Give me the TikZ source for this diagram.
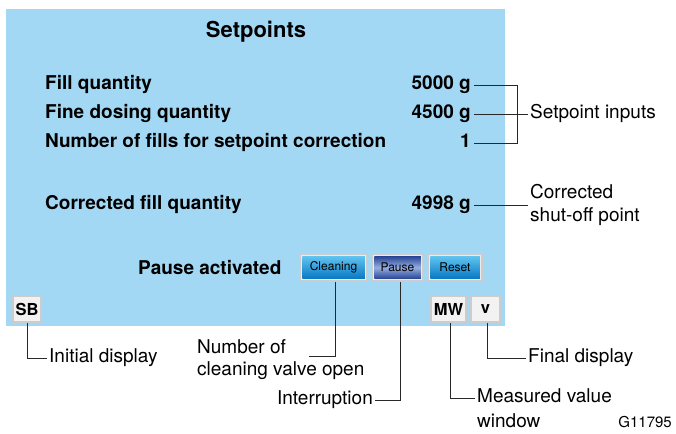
\documentclass[tikz,border=0pt]{standalone}
\usepackage{fontspec}
\setmainfont{TeX Gyre Heros}
\definecolor{panel}{RGB}{163,216,245}
\definecolor{frame}{RGB}{204,204,204}
\definecolor{framefill}{RGB}{236,236,236}
\definecolor{ink}{RGB}{40,40,40}
\definecolor{btntop}{RGB}{96,196,240}
\definecolor{btnbot}{RGB}{8,120,196}
\definecolor{pausedark}{RGB}{40,68,150}
\definecolor{pauselight}{RGB}{150,175,225}
\begin{document}
\begin{tikzpicture}[x=1pt,y=-1pt,
  paneltext/.style={inner xsep=0pt, inner ysep=0pt, font=\fontsize{19}{22}\selectfont\bfseries, text height=13pt, text depth=4pt},
  lbl/.style={inner xsep=2pt, inner ysep=0pt, font=\fontsize{19}{22}\selectfont, text height=13pt, text depth=4pt},
  btnframe/.style={draw=frame, line width=1.5pt, fill=framefill, minimum height=27pt, inner sep=0pt},
  btntext/.style={font=\fontsize{12}{14}\selectfont, inner sep=0pt},
  dispbox/.style={draw=frame, line width=2.5pt, fill=white!95!black, minimum height=26pt, inner sep=0pt, font=\fontsize{16.5}{19}\selectfont\bfseries},
  conn/.style={draw=ink, line width=0.9pt}
]
\useasboundingbox (0,0) rectangle (676,433);
% panel
\node[fill=panel, minimum width=499pt, minimum height=317pt, anchor=north west, inner sep=0pt] (panel) at (6,9) {};
\node[inner sep=0pt, font=\fontsize{22}{26}\selectfont\bfseries, anchor=base] (title) at (256,38) {Setpoints};

% rows
\node[paneltext, anchor=west] (l1) at (45,85) {Fill quantity};
\node[paneltext, anchor=west] (l2) at (45,114) {Fine dosing quantity};
\node[paneltext, anchor=west] (l3) at (45,143) {Number of fills for setpoint correction};
\node[paneltext, anchor=west] (l4) at (45,205) {Corrected fill quantity};
\node[paneltext, anchor=east, inner xsep=3pt] (v1) at (474,85) {5000 g};
\node[paneltext, anchor=east, inner xsep=3pt] (v2) at (474,114) {4500 g};
\node[paneltext, anchor=east, inner xsep=3pt] (v3) at (474,143) {1};
\node[paneltext, anchor=east, inner xsep=3pt] (v4) at (474,205) {4998 g};
\node[paneltext, anchor=west] (pa) at (138,270) {Pause activated};

% buttons
\node[btnframe, minimum width=67pt] (clean) at (333.5,267.5) {};
\shade[top color=btntop, bottom color=btnbot] ([shift={(3pt,-3pt)}]clean.north west) rectangle ([shift={(-3pt,3pt)}]clean.south east);
\node[btntext] (cleant) at (clean) {Cleaning};
\node[btnframe, minimum width=51pt] (pause) at (397.5,267.5) {};
\shade[top color=pausedark, bottom color=pausedark, middle color=pauselight] ([shift={(3pt,-3pt)}]pause.north west) rectangle ([shift={(-3pt,3pt)}]pause.south east);
\node[btntext] (pauset) at (pause) {Pause};
\node[btnframe, minimum width=54pt] (reset) at (455,267.5) {};
\shade[top color=btntop, bottom color=btnbot] ([shift={(3pt,-3pt)}]reset.north west) rectangle ([shift={(-3pt,3pt)}]reset.south east);
\node[btntext] (resett) at (reset) {Reset};

% display boxes
\node[dispbox, minimum width=28pt] (sb) at (27,309) {SB};
\node[dispbox, minimum width=35pt] (mw) at (448.5,309) {MW};
\node[dispbox, minimum width=29pt] (vv) at (485.5,309) {v};

% right labels
\coordinate (spx) at (528,0);
\coordinate (brk) at (517,114);
\node[lbl, anchor=west] (sp) at (v2.east -| spx) {Setpoint inputs};
\node[lbl, anchor=west, align=left, text height=, text depth=, font=\fontsize{19}{23.5}\selectfont] (cs) at (v4.east -| spx) {Corrected\\shut-off point};
\draw[conn] (v1.east) -| (brk) |- (v3.east);
\draw[conn] (v2.east) -- (sp.west);
\draw[conn] (v4.east) -- (cs.west);

% bottom labels
\node[lbl, anchor=west] (init) at (47,358) {Initial display};
\draw[conn] (sb.south) |- (init.west);

\node[lbl, anchor=base west, inner xsep=0pt] (nc1) at (197,353) {Number of};
\node[lbl, anchor=base west, inner xsep=0pt] (nc2) at (197,375) {cleaning valve open};
\coordinate (ncend) at (309,356);
\draw[conn] ([xshift=1.5pt]clean.south) |- (ncend);

\node[lbl, anchor=east] (intr) at (375,400) {Interruption};
\draw[conn] ([xshift=2.5pt]pause.south) |- (intr.east);

\node[lbl, anchor=west] (fd) at (526,358) {Final display};
\draw[conn] ([xshift=1.5pt]vv.south) |- (fd.west);

\node[lbl, anchor=west] (mv1) at (475,398) {Measured value};
\node[lbl, anchor=base west, inner xsep=0pt] (mv2) at (477,427) {window};
\draw[conn] ([xshift=1.5pt]mw.south) |- (mv1.west);

\node[inner sep=0pt, anchor=base east, font=\fontsize{15}{18}\selectfont] (gid) at (672,427) {G11795};
\end{tikzpicture}
\end{document}
